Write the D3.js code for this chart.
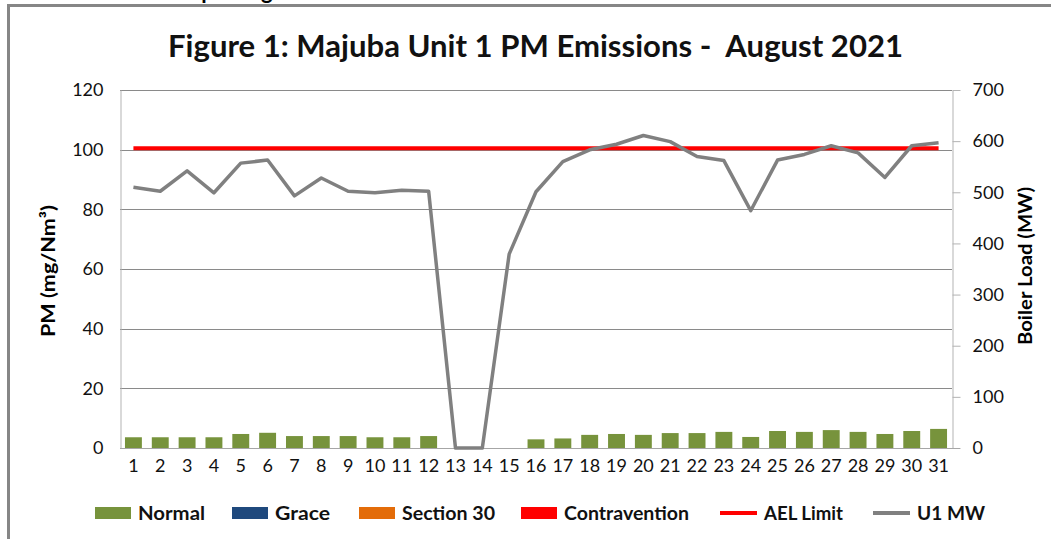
<!DOCTYPE html>
<html>
<head>
<meta charset="utf-8">
<script src="https://cdn.jsdelivr.net/npm/d3@7"></script>
<style>
  body { margin: 0; background: #fff; }
  svg { display: block; font-family: Lato, "Open Sans", sans-serif; }
</style>
</head>
<body>
<svg id="chart" width="1051" height="539"></svg>
<script>
// chart data
var days = d3.range(1, 32).map(String);
var pmNormal = [3.6, 3.6, 3.6, 3.6, 4.7, 5.1, 4.0, 4.0, 4.0, 3.6, 3.6, 4.0, null, null, null,
                2.9, 3.2, 4.4, 4.7, 4.4, 5.0, 5.0, 5.4, 3.7, 5.7, 5.4, 6.0, 5.4, 4.7, 5.7, 6.4];
var u1MW = [510, 502, 542, 499, 557, 563, 493, 528, 502, 499, 504, 502, 0, 0, 379,
            501, 560, 583, 594, 611, 599, 570, 562, 464, 563, 574, 591, 577, 529, 591, 597];
var aelLimit = 100;
var leftTicks = [0, 20, 40, 60, 80, 100, 120];
var rightTicks = [0, 100, 200, 300, 400, 500, 600, 700];
var legendItems = [
  { label: "Normal", color: "#77933C", type: "box" },
  { label: "Grace", color: "#1F497D", type: "box" },
  { label: "Section 30", color: "#E36C09", type: "box" },
  { label: "Contravention", color: "#FF0000", type: "box" },
  { label: "AEL Limit", color: "#FF0000", type: "line" },
  { label: "U1 MW", color: "#808080", type: "line" }
];

var svg = d3.select("#chart");
var plot = { left: 120, right: 952, top: 90, bottom: 448 };

// text from the page above, mostly cut off
svg.append("text")
  .attr("x", 176).attr("y", -1)
  .attr("font-size", 22).attr("font-weight", "bold")
  .text("Reporting");

// outer frame
svg.append("rect")
  .attr("x", 8.5).attr("y", 5.5)
  .attr("width", 1100).attr("height", 600)
  .attr("fill", "none")
  .attr("stroke", "#868686")
  .attr("stroke-width", 3);

svg.append("text")
  .attr("x", 168).attr("y", 57)
  .attr("xml:space", "preserve")
  .style("white-space", "pre")
  .attr("font-size", 31).attr("font-weight", "bold")
  .attr("textLength", 735).attr("lengthAdjust", "spacingAndGlyphs")
  .attr("fill", "#111")
  .text("Figure 1: Majuba Unit 1 PM Emissions -  August 2021");

var x = d3.scaleBand().domain(days).range([plot.left, plot.right]);
var yL = d3.scaleLinear().domain([0, 120]).range([plot.bottom, plot.top]);
var yR = d3.scaleLinear().domain([0, 700]).range([plot.bottom, plot.top]);

// gridlines
svg.append("g")
  .selectAll("line")
  .data(leftTicks.filter(function(d) { return d > 0; }))
  .enter().append("line")
  .attr("x1", plot.left).attr("x2", plot.right)
  .attr("y1", function(d) { return Math.round(yL(d)) + 0.5; })
  .attr("y2", function(d) { return Math.round(yL(d)) + 0.5; })
  .attr("stroke", "#8a8a8a");

// left axis
var leftAxis = svg.append("g")
  .attr("transform", "translate(" + (plot.left + 0.5) + ",0)")
  .call(d3.axisLeft(yL).tickValues(leftTicks).tickSize(0).tickPadding(17));
leftAxis.select(".domain").attr("stroke", "#b3b3b3");
leftAxis.selectAll("text").attr("font-size", 18).attr("fill", "#111").attr("font-family", "Lato");

// right axis
var rightAxis = svg.append("g")
  .attr("transform", "translate(" + (plot.right + 0.5) + ",0)")
  .call(d3.axisRight(yR).tickValues(rightTicks).tickSize(8).tickSizeOuter(0).tickPadding(12));
rightAxis.select(".domain").attr("stroke", "#b3b3b3");
rightAxis.selectAll(".tick line").attr("stroke", "#b3b3b3");
rightAxis.selectAll("text").attr("font-size", 18).attr("fill", "#111").attr("font-family", "Lato");

// bars
var barW = x.bandwidth() * 0.63;
svg.append("g")
  .selectAll("rect")
  .data(days.map(function(d, i) { return { day: d, v: pmNormal[i] }; })
            .filter(function(d) { return d.v != null; }))
  .enter().append("rect")
  .attr("x", function(d) { return x(d.day) + (x.bandwidth() - barW) / 2; })
  .attr("width", barW)
  .attr("y", function(d) { return yL(d.v); })
  .attr("height", function(d) { return yL(0) - yL(d.v); })
  .attr("fill", "#77933C");

// x axis
var xAxis = svg.append("g")
  .attr("transform", "translate(0," + (plot.bottom + 0.5) + ")")
  .call(d3.axisBottom(x).tickSize(0).tickPadding(11));
xAxis.select(".domain").attr("stroke", "#a6a6a6").attr("d", "M" + plot.left + ",0H" + (plot.right + 8));
xAxis.selectAll("text").attr("font-size", 18).attr("fill", "#111").attr("font-family", "Lato");

// AEL limit line
svg.append("path")
  .datum(days)
  .attr("d", d3.line()
    .x(function(d) { return x(d) + x.bandwidth() / 2; })
    .y(function() { return yL(aelLimit) - 1.5; }))
  .attr("fill", "none")
  .attr("stroke", "#FF0000")
  .attr("stroke-width", 4);

// U1 MW line
svg.append("path")
  .datum(u1MW)
  .attr("d", d3.line()
    .x(function(d, i) { return x(days[i]) + x.bandwidth() / 2; })
    .y(function(d) { return yR(d); }))
  .attr("fill", "none")
  .attr("stroke", "#808080")
  .attr("stroke-width", 3.5)
  .attr("stroke-linejoin", "round");

// axis titles
svg.append("text")
  .attr("transform", "translate(55,271) rotate(-90)")
  .attr("text-anchor", "middle")
  .attr("font-size", 19).attr("font-weight", "bold")
  .attr("textLength", 132).attr("lengthAdjust", "spacingAndGlyphs")
  .text("PM (mg/Nm³)");

svg.append("text")
  .attr("transform", "translate(1032,266) rotate(-90)")
  .attr("text-anchor", "middle")
  .attr("font-size", 19).attr("font-weight", "bold")
  .attr("textLength", 158).attr("lengthAdjust", "spacingAndGlyphs")
  .text("Boiler Load (MW)");

// legend
var legendX = [95, 232, 359, 521, 720, 873];
var legendW = [67, 55, 93, 125, 79, 68];
var legend = svg.append("g")
  .selectAll("g")
  .data(legendItems)
  .enter().append("g")
  .attr("transform", function(d, i) { return "translate(" + legendX[i] + ",513)"; });

legend.filter(function(d) { return d.type == "box"; })
  .append("rect")
  .attr("x", 0).attr("y", -6)
  .attr("width", 36).attr("height", 12)
  .attr("fill", function(d) { return d.color; });

legend.filter(function(d) { return d.type == "line"; })
  .append("line")
  .attr("x1", 0).attr("x2", 37)
  .attr("y1", 0).attr("y2", 0)
  .attr("stroke", function(d) { return d.color; })
  .attr("stroke-width", 4);

legend.append("text")
  .attr("x", function(d) { return d.type == "box" ? 43 : 44; })
  .attr("y", 7)
  .attr("font-size", 19).attr("font-weight", "bold")
  .attr("textLength", function(d, i) { return legendW[i]; })
  .attr("lengthAdjust", "spacingAndGlyphs")
  .attr("fill", "#111")
  .text(function(d) { return d.label; });
</script>
</body>
</html>
